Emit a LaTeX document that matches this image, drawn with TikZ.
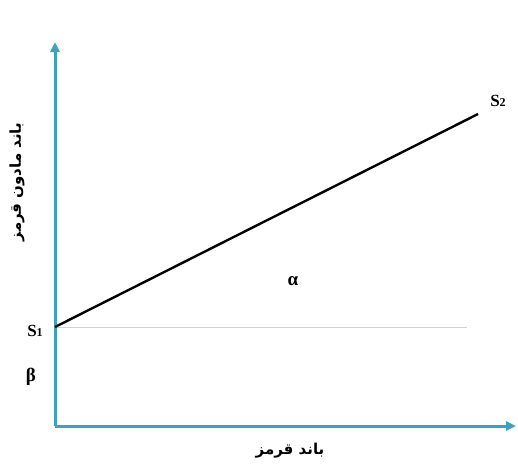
\documentclass[tikz,border=0pt]{standalone}
\usepackage{fontspec}
\setmainfont{Liberation Serif}
\newfontfamily\arabicfont[Script=Arabic]{DejaVu Sans}
\TeXXeTstate=1
\usetikzlibrary{arrows.meta}
\definecolor{axisblue}{HTML}{3BA3C2}
\tikzset{
  axisline/.style={draw=axisblue, line width=3pt, -{Triangle[length=10pt,width=9pt]}},
  lbl/.style={font=\bfseries\fontsize{17}{19}\selectfont, inner sep=1pt},
  greek/.style={font=\bfseries\fontsize{19}{21}\selectfont, inner sep=1pt},
  fa/.style={font=\arabicfont\bfseries\fontsize{15}{17}\selectfont, inner sep=1pt}
}
\newcommand{\lowsub}[1]{\raisebox{-0.5pt}{\fontsize{12}{14}\selectfont #1}}
\begin{document}
\begin{tikzpicture}[x=1pt,y=-1pt]
\useasboundingbox (0,0) rectangle (518,464);
\coordinate (O) at (55,426);
\coordinate (ytop) at (55,42);
\coordinate (xend) at (516,426);
\coordinate (S1) at (55,327);
\coordinate (S2) at (478,114);
\coordinate (G) at (467,327);
\draw[gray!35, line width=0.9pt] (S1) -- (G);
\draw[axisline] (O) -- (ytop);
\draw[axisline] (O) -- (xend);
\draw[black, line width=2.4pt] (S1) -- (S2);
\node[lbl] (s1) at (35,331) {S\lowsub{1}};
\node[lbl] (s2) at (498,101) {S\lowsub{2}};
\node[greek] (beta) at (31,377) {β};
\node[greek] (alpha) at (293,281) {α};
\node[fa, rotate=90] (ylab) at (17,182) {\beginR باند مادون قرمز\endR};
\node[fa] (xlab) at (290,451) {\beginR باند قرمز\endR};
\end{tikzpicture}
\end{document}
